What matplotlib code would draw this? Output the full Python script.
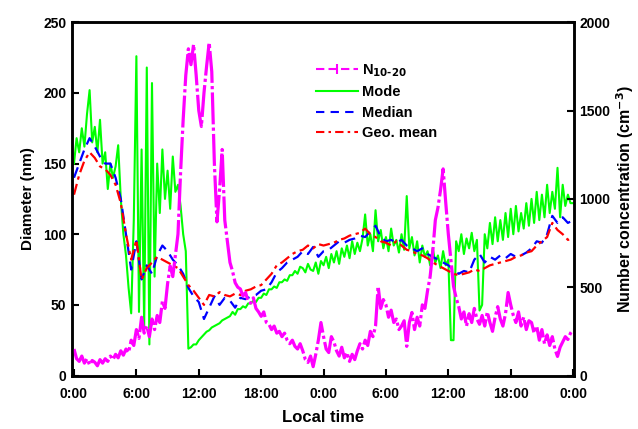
import numpy as np
import matplotlib.pyplot as plt
from matplotlib.lines import Line2D

plt.rcParams['font.family'] = ['Liberation Sans', 'DejaVu Sans']
plt.rcParams['font.weight'] = 'bold'
plt.rcParams['mathtext.default'] = 'bf'

# mode diameter (nm), every 15 min
mode = [150, 168, 158, 175, 162, 185, 202, 165, 176, 158, 181, 150,
        158, 132, 150, 140, 148, 163, 125, 100, 85, 62, 44, 110,
        226, 45, 160, 35, 218, 22, 207, 70, 150, 115, 160, 125,
        145, 118, 155, 130, 135, 120, 100, 88, 19, 20, 22, 22,
        25, 27, 29, 31, 32, 34, 35, 36, 37, 39, 40, 41,
        42, 45, 43, 47, 47, 49, 48, 51, 51, 53, 52, 55,
        55, 58, 57, 61, 61, 63, 62, 66, 66, 68, 67, 71,
        71, 74, 72, 77, 76, 73, 79, 75, 74, 80, 72, 81,
        78, 84, 76, 86, 80, 88, 79, 90, 84, 92, 83, 95,
        86, 94, 88, 97, 114, 92, 100, 88, 117, 95, 103, 90,
        98, 88, 104, 92, 96, 87, 100, 89, 127, 90, 98, 85,
        95, 80, 92, 84, 88, 78, 90, 80, 85, 76, 88, 78,
        82, 25, 25, 95, 88, 100, 86, 97, 90, 101, 88, 96,
        46, 50, 100, 90, 108, 93, 112, 95, 110, 96, 115, 98,
        118, 100, 120, 102, 115, 104, 122, 106, 125, 108, 130, 110,
        128, 112, 135, 115, 130, 118, 147, 112, 135, 120, 128, 122,
        122]

# N10-20 number concentration (cm-3), every 15 min
n1020 = [150, 95, 80, 110, 70, 95, 60, 85, 75, 55, 90, 70,
         95, 80, 110, 90, 120, 100, 140, 115, 150, 130, 200, 170,
         260, 210, 330, 240, 280, 220, 320, 260, 340, 300, 420, 380,
         520, 620, 560, 680, 800, 1150, 1450, 1700, 1850, 1760, 1875, 1700,
         1500, 1410, 1600, 1750, 1885, 1720, 1200, 870, 1050, 1280, 880, 760,
         640, 590, 525, 500, 490, 450, 470, 420, 410, 440, 380, 360,
         335, 360, 300, 290, 260, 280, 240, 250, 220, 240, 200, 180,
         200, 165, 150, 180, 140, 90, 74, 110, 50, 120, 200, 300,
         220, 150, 130, 220, 190, 140, 110, 160, 100, 130, 80, 120,
         90, 140, 180, 150, 200, 170, 250, 220, 280, 505, 380, 430,
         400, 330, 370, 300, 320, 260, 280, 310, 165, 300, 357, 260,
         330, 280, 400, 380, 480, 560, 700, 880, 950, 1050, 1170, 980,
         800, 650, 505, 440, 390, 320, 360, 280, 350, 300, 380, 320,
         290, 340, 280, 360, 300, 250, 330, 390, 320, 280, 350, 470,
         400, 340, 300, 360, 280, 330, 260, 310, 300, 240, 280, 200,
         260, 180, 230, 170, 220, 150, 108, 160, 190, 220, 204, 240,
         260]

# median and geometric mean diameter (nm), every 30 min
median = [140, 150, 160, 168, 162, 155, 150, 150, 140, 125, 100, 75,
          95, 68, 78, 72, 85, 92, 88, 82, 78, 72, 62, 56,
          52, 40, 48, 56, 50, 55, 53, 48, 55, 54, 56, 57,
          60, 61, 66, 73, 76, 80, 82, 84, 88, 86, 91, 84,
          88, 89, 92, 95, 94, 96, 97, 99, 98, 102, 106, 98,
          95, 96, 94, 96, 92, 90, 88, 90, 86, 84, 82, 80,
          78, 75, 72, 74, 73, 82, 86, 80, 84, 82, 85, 83,
          86, 84, 85, 87, 90, 95, 94, 100, 113, 108, 112, 108,
          110]
geomean = [128, 142, 152, 158, 154, 148, 146, 142, 135, 122, 100, 82,
           96, 68, 76, 80, 84, 82, 80, 78, 76, 70, 64, 60,
           55, 50, 57, 56, 59, 57, 56, 58, 57, 60, 61, 63,
           64, 68, 72, 78, 80, 83, 86, 88, 89, 92, 90, 93,
           92, 93, 94, 96, 97, 99, 100, 101, 104, 100, 98, 95,
           94, 92, 95, 92, 89, 88, 86, 85, 83, 80, 78, 76,
           74, 72, 71, 72, 73, 75, 74, 76, 78, 79, 80, 81,
           82, 84, 85, 87, 88, 92, 95, 98, 108, 103, 100, 96,
           97]

tick_hours = [0, 6, 12, 18, 24, 30, 36, 42, 48]
tick_labels = ['0:00', '6:00', '12:00', '18:00', '0:00', '6:00', '12:00', '18:00', '0:00']

t15 = np.arange(len(mode)) * 0.25
t30 = np.arange(len(median)) * 0.5

fig = plt.figure(figsize=(6.38, 4.29), dpi=100)
ax = fig.add_axes([0.1124, 0.1247, 0.788, 0.8233])
ax2 = ax.twinx()

ax.plot(t15, mode, color='#00ff00', lw=1.5)
ax.plot(t30, median, color='#0000ff', lw=1.6, ls=(0, (5, 3)))
ax.plot(t30, geomean, color='#ff0000', lw=1.6, ls=(0, (5, 2, 1.5, 2)))
ax2.plot(t15, n1020, color='#ff00ff', lw=2.3, ls=(0, (10, 1, 1, 1)))

ax.set_xlim(-0.22, 48.13)
ax.set_ylim(0, 250)
ax2.set_ylim(0, 2000)
ax.set_xticks(tick_hours)
ax.set_xticklabels(tick_labels)
ax.set_yticks([0, 50, 100, 150, 200, 250])
ax2.set_yticks([0, 500, 1000, 1500, 2000])

for a in (ax, ax2):
    for s in a.spines.values():
        s.set_linewidth(1.8)
    a.tick_params(direction='in', length=5, width=1.5, labelsize=10)
    for lbl in a.get_xticklabels() + a.get_yticklabels():
        lbl.set_fontweight('bold')
ax.tick_params(axis='x', pad=8)
ax.tick_params(axis='y', pad=4)

ax.set_xlabel('Local time', fontsize=12, fontweight='bold', labelpad=7)
ax.set_ylabel('Diameter (nm)', fontsize=11, fontweight='bold', labelpad=6)
ax2.set_ylabel('Number concentration (cm$^{-3}$)', fontsize=11.5,
               fontweight='bold', labelpad=3)

handles = [
    Line2D([], [], color='#ff00ff', lw=1.5, ls=(0, (4, 2)), marker='|', ms=7, mew=1.5),
    Line2D([], [], color='#00ff00', lw=1.5),
    Line2D([], [], color='#0000ff', lw=1.5, ls=(0, (4, 3))),
    Line2D([], [], color='#ff0000', lw=1.5, ls=(0, (4, 2, 1.2, 2))),
]
labels = ['N$_{10\\text{-}20}$', 'Mode', 'Median', 'Geo. mean']
leg = ax2.legend(handles, labels, loc='upper left', bbox_to_anchor=(0.46, 0.925),
                 frameon=False, numpoints=1, handlelength=2.9,
                 handletextpad=0.25, labelspacing=0.45,
                 prop={'size': 10.5, 'weight': 'bold'})

fig.savefig('out.png', dpi=100)
